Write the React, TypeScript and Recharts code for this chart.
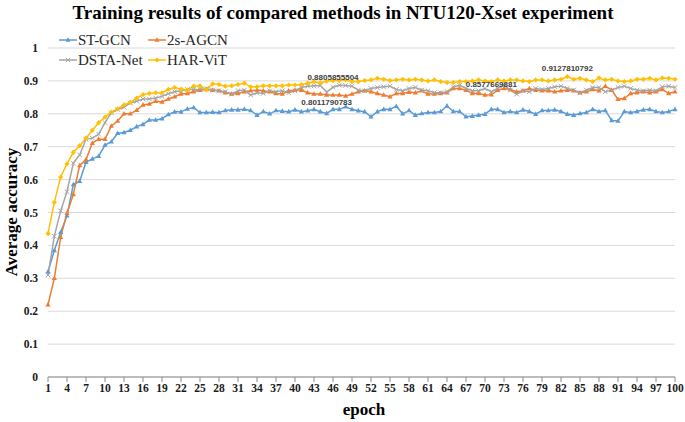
import React from 'react';
import { LineChart, Line, XAxis, YAxis, CartesianGrid, LabelList } from 'recharts';

const epochs = Array.from({ length: 100 }, (_, i) => String(i + 1));

const stGcn = [
  0.32, 0.385, 0.44, 0.49, 0.585, 0.595, 0.653, 0.663, 0.671, 0.705,
  0.715, 0.741, 0.743, 0.75, 0.761, 0.768, 0.781, 0.781, 0.785, 0.798,
  0.806, 0.806, 0.815, 0.819, 0.804, 0.804, 0.805, 0.804, 0.81, 0.812,
  0.812, 0.814, 0.81, 0.796, 0.807, 0.8, 0.81, 0.808, 0.8065, 0.812,
  0.8065, 0.8095, 0.8135, 0.8065, 0.8011790783, 0.8135, 0.8135, 0.8216, 0.8135, 0.8095,
  0.8065, 0.791, 0.8065, 0.8135, 0.8135, 0.823, 0.8, 0.81, 0.796, 0.801,
  0.804, 0.804, 0.807, 0.824, 0.807, 0.807, 0.791, 0.793, 0.796, 0.799,
  0.8135, 0.8135, 0.804, 0.807, 0.804, 0.812, 0.807, 0.799, 0.81, 0.81,
  0.812, 0.807, 0.799, 0.796, 0.801, 0.804, 0.8135, 0.807, 0.81, 0.78,
  0.778, 0.807, 0.804, 0.807, 0.812, 0.8135, 0.807, 0.804, 0.807, 0.8135,
];

const agcn2s = [
  0.22, 0.3, 0.425, 0.498, 0.555, 0.643, 0.661, 0.711, 0.723, 0.723,
  0.763, 0.778, 0.8, 0.8, 0.811, 0.827, 0.83, 0.838, 0.836, 0.845,
  0.852, 0.86, 0.862, 0.867, 0.872, 0.874, 0.872, 0.87, 0.864, 0.86,
  0.862, 0.867, 0.87, 0.872, 0.87, 0.867, 0.862, 0.86, 0.87, 0.872,
  0.872, 0.864, 0.86, 0.86, 0.857, 0.857, 0.857, 0.854, 0.86, 0.867,
  0.87, 0.867, 0.862, 0.857, 0.852, 0.862, 0.862, 0.866, 0.864, 0.87,
  0.86, 0.86, 0.862, 0.864, 0.877, 0.877, 0.872, 0.862, 0.862, 0.857,
  0.8577669881, 0.872, 0.877, 0.874, 0.867, 0.87, 0.877, 0.872, 0.87, 0.87,
  0.867, 0.87, 0.872, 0.87, 0.864, 0.867, 0.874, 0.87, 0.884, 0.872,
  0.844, 0.847, 0.862, 0.864, 0.867, 0.864, 0.867, 0.874, 0.862, 0.867,
];

const dstaNet = [
  0.31, 0.428, 0.505, 0.563, 0.65, 0.675, 0.723, 0.726, 0.738, 0.773,
  0.803, 0.813, 0.82, 0.833, 0.838, 0.845, 0.845, 0.848, 0.853, 0.861,
  0.867, 0.87, 0.874, 0.874, 0.874, 0.877, 0.872, 0.87, 0.867, 0.86,
  0.87, 0.872, 0.857, 0.864, 0.862, 0.87, 0.867, 0.87, 0.864, 0.87,
  0.88, 0.884, 0.885, 0.886, 0.866, 0.8805855504, 0.887, 0.886, 0.884, 0.872,
  0.87, 0.877, 0.88, 0.882, 0.884, 0.874, 0.87, 0.877, 0.88, 0.872,
  0.87, 0.864, 0.864, 0.867, 0.882, 0.887, 0.877, 0.87, 0.87, 0.877,
  0.867, 0.877, 0.887, 0.872, 0.86, 0.87, 0.867, 0.877, 0.874, 0.877,
  0.882, 0.884, 0.877, 0.872, 0.864, 0.872, 0.88, 0.88, 0.867, 0.872,
  0.88, 0.884, 0.877, 0.872, 0.87, 0.872, 0.87, 0.882, 0.884, 0.88,
];

const harVit = [
  0.436, 0.531, 0.608, 0.648, 0.683, 0.703, 0.726, 0.75, 0.773, 0.79,
  0.805, 0.815, 0.827, 0.835, 0.848, 0.858, 0.862, 0.864, 0.864, 0.874,
  0.88, 0.875, 0.872, 0.884, 0.885, 0.873, 0.891, 0.889, 0.884, 0.885,
  0.889, 0.893, 0.882, 0.882, 0.885, 0.885, 0.885, 0.885, 0.8875, 0.8875,
  0.889, 0.893, 0.8977, 0.894, 0.899, 0.901, 0.901, 0.903, 0.898, 0.898,
  0.901, 0.903, 0.908, 0.905, 0.901, 0.903, 0.905, 0.903, 0.905, 0.903,
  0.9, 0.903, 0.898, 0.895, 0.895, 0.898, 0.898, 0.9, 0.903, 0.9,
  0.898, 0.903, 0.9, 0.903, 0.903, 0.9, 0.898, 0.903, 0.903, 0.9,
  0.903, 0.905, 0.9127810792, 0.905, 0.908, 0.903, 0.898, 0.909, 0.903, 0.905,
  0.9, 0.898, 0.9, 0.905, 0.905, 0.908, 0.903, 0.909, 0.908, 0.905,
];

const yTicks = [0, 0.1, 0.2, 0.3, 0.4, 0.5, 0.6, 0.7, 0.8, 0.9, 1];

const data = epochs.map((e, i) => ({
  epoch: e,
  st: stGcn[i],
  agcn: agcn2s[i],
  dsta: dstaNet[i],
  har: harVit[i],
}));

const BLUE = '#5B9BD5';
const ORANGE = '#ED7D31';
const GRAY = '#A5A5A5';
const YELLOW = '#FFC000';
const SERIF = '"Liberation Serif", "Times New Roman", serif';

const tri = (color: string) => (p: any) => (
  <path
    key={`t-${p.index}`}
    d={`M${p.cx},${p.cy - 2.8} L${p.cx + 2.6},${p.cy + 1.8} L${p.cx - 2.6},${p.cy + 1.8} Z`}
    fill={color}
  />
);

const cross = (p: any) => (
  <path
    key={`x-${p.index}`}
    d={`M${p.cx - 2.3},${p.cy - 2.3} L${p.cx + 2.3},${p.cy + 2.3} M${p.cx + 2.3},${p.cy - 2.3} L${p.cx - 2.3},${p.cy + 2.3}`}
    stroke={GRAY}
    strokeWidth={1}
  />
);

const diamond = (p: any) => (
  <path
    key={`d-${p.index}`}
    d={`M${p.cx},${p.cy - 2.6} L${p.cx + 2.6},${p.cy} L${p.cx},${p.cy + 2.6} L${p.cx - 2.6},${p.cy} Z`}
    fill={YELLOW}
  />
);

// only one point per series gets a value label
const pointLabel = (target: number, dy: number) => (p: any) =>
  p.index === target ? (
    <text
      key={`l-${p.index}`}
      x={p.x}
      y={p.y - dy}
      textAnchor="middle"
      fontSize={8}
      fontWeight="bold"
      fontFamily='"Liberation Sans", Arial, sans-serif'
      fill="#404040"
    >
      {String(p.value)}
    </text>
  ) : null;

const LegendItem = ({ color, label, mark }: { color: string; label: string; mark: React.ReactNode }) => (
  <div style={{ display: 'flex', alignItems: 'center', width: 89, whiteSpace: 'nowrap' }}>
    <svg width={18} height={10}>
      <line x1={0} y1={5} x2={18} y2={5} stroke={color} strokeWidth={1.5} />
      {mark}
    </svg>
    <span style={{ marginLeft: 1, fontSize: 15, color: '#262626' }}>{label}</span>
  </div>
);

export default function App() {
  return (
    <div
      style={{
        position: 'absolute',
        left: 0,
        top: 0,
        width: 685,
        height: 422,
        background: '#fff',
        fontFamily: SERIF,
      }}
    >
      <LineChart width={685} height={422} data={data} margin={{ top: 48, right: 10, bottom: 20, left: 8 }}>
        <CartesianGrid vertical={false} stroke="#D9D9D9" />
        <XAxis
          dataKey="epoch"
          interval={2}
          height={25}
          axisLine={{ stroke: '#8C8C8C' }}
          tickLine={{ stroke: '#8C8C8C' }}
          tickSize={5}
          tick={{ fontSize: 11.5, fontWeight: 'bold', fill: '#1a1a1a', fontFamily: SERIF }}
        />
        <YAxis
          domain={[0, 1]}
          ticks={yTicks}
          width={40}
          axisLine={false}
          tickLine={false}
          tickSize={0}
          tickMargin={10}
          tickFormatter={(v: number) => (v === 0 || v === 1 ? String(v) : v.toFixed(1))}
          tick={{ fontSize: 11.5, fontWeight: 'bold', fill: '#1a1a1a', fontFamily: SERIF }}
        />
        <Line dataKey="st" stroke={BLUE} strokeWidth={1.5} dot={tri(BLUE)} isAnimationActive={false}>
          <LabelList dataKey="st" content={pointLabel(44, 8)} />
        </Line>
        <Line dataKey="agcn" stroke={ORANGE} strokeWidth={1.5} dot={tri(ORANGE)} isAnimationActive={false}>
          <LabelList dataKey="agcn" content={pointLabel(70, 8)} />
        </Line>
        <Line dataKey="dsta" stroke={GRAY} strokeWidth={1.5} dot={cross} isAnimationActive={false}>
          <LabelList dataKey="dsta" content={pointLabel(45, 7)} />
        </Line>
        <Line dataKey="har" stroke={YELLOW} strokeWidth={1.5} dot={diamond} isAnimationActive={false}>
          <LabelList dataKey="har" content={pointLabel(82, 6)} />
        </Line>
      </LineChart>

      <svg width={685} height={422} style={{ position: 'absolute', left: 0, top: 0, pointerEvents: 'none' }}>
        <text x={343} y={19} textAnchor="middle" fontSize={19} fontWeight="bold" fontFamily={SERIF} fill="#000">
          Training results of compared methods in NTU120-Xset experiment
        </text>
        <text
          x={17}
          y={212}
          textAnchor="middle"
          fontSize={17}
          fontWeight="bold"
          fontFamily={SERIF}
          fill="#000"
          transform="rotate(-90 17 212)"
        >
          Average accuracy
        </text>
        <text x={364} y={415} textAnchor="middle" fontSize={17} fontWeight="bold" fontFamily={SERIF} fill="#000">
          epoch
        </text>
      </svg>

      <div style={{ position: 'absolute', left: 59, top: 30, lineHeight: '20px' }}>
        <div style={{ display: 'flex' }}>
          <LegendItem color={BLUE} label="ST-GCN" mark={<path d="M9,2.2 L11.5,6.8 L6.5,6.8 Z" fill={BLUE} />} />
          <LegendItem color={ORANGE} label="2s-AGCN" mark={<path d="M9,2.2 L11.5,6.8 L6.5,6.8 Z" fill={ORANGE} />} />
        </div>
        <div style={{ display: 'flex' }}>
          <LegendItem
            color={GRAY}
            label="DSTA-Net"
            mark={<path d="M6.8,2.8 L11.2,7.2 M11.2,2.8 L6.8,7.2" stroke={GRAY} />}
          />
          <LegendItem color={YELLOW} label="HAR-ViT" mark={<path d="M9,2.4 L11.6,5 L9,7.6 L6.4,5 Z" fill={YELLOW} />} />
        </div>
      </div>
    </div>
  );
}
